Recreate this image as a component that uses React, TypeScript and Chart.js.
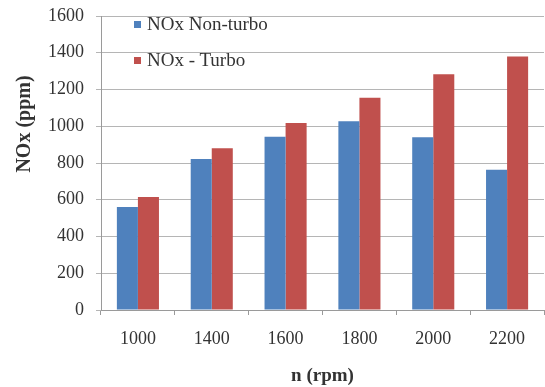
import React, { useEffect, useRef } from "react";
import { Chart, registerables } from "chart.js";

Chart.register(...registerables);

const categories = ["1000", "1400", "1600", "1800", "2000", "2200"];
const nonTurbo = [560, 822, 943, 1027, 940, 763];
const turbo = [615, 880, 1018, 1155, 1283, 1380];
const seriesNames = ["NOx Non-turbo", "NOx - Turbo"];
const seriesColors = ["#4F81BD", "#C0504D"];
const yTitle = "NOx (ppm)";
const xTitle = "n (rpm)";

const yTitlePlugin = {
  id: "yTitlePlugin",
  afterDraw(chart: any) {
    const ctx = chart.ctx;
    ctx.save();
    ctx.translate(25, 124);
    ctx.rotate(-Math.PI / 2);
    ctx.font = "bold 20px 'Liberation Serif'";
    ctx.fillStyle = "#333";
    ctx.textAlign = "center";
    ctx.textBaseline = "middle";
    ctx.fillText(yTitle, 0, 0);
    ctx.restore();
  },
};

export default function App() {
  const ref = useRef<HTMLCanvasElement | null>(null);
  useEffect(() => {
    if (!ref.current) return;
    const chart = new Chart(ref.current, {
      type: "bar",
      data: {
        labels: categories,
        datasets: [
          { label: seriesNames[0], data: nonTurbo, backgroundColor: seriesColors[0], barPercentage: 1, categoryPercentage: 0.57 },
          { label: seriesNames[1], data: turbo, backgroundColor: seriesColors[1], barPercentage: 1, categoryPercentage: 0.57 },
        ],
      },
      options: {
        animation: false,
        responsive: false,
        maintainAspectRatio: false,
        layout: { padding: { top: 16, right: 1, left: 0, bottom: 0 } },
        plugins: { legend: { display: false }, tooltip: { enabled: false } },
        scales: {
          x: {
            offset: true,
            grid: { offset: true, drawOnChartArea: false, drawTicks: true, tickLength: 5, color: "#9a9a9a" },
            border: { color: "#9a9a9a" },
            ticks: { color: "#333", font: { family: "Liberation Serif", size: 18 }, padding: 13 },
            title: { display: true, text: xTitle, color: "#333", font: { family: "Liberation Serif", size: 19, weight: "bold" }, padding: { top: 0, bottom: 0 } },
            afterFit: (s: any) => { s.height = 77; s.paddingLeft = 0; s.paddingRight = 0; },
          },
          y: {
            min: 0,
            max: 1600,
            ticks: {
              stepSize: 200,
              color: "#333",
              font: { family: "Liberation Serif", size: 18 },
              padding: 12,
              callback: (v: any) => String(v),
            },
            grid: { color: "#b5b5b5", tickLength: 5 },
            border: { color: "#9a9a9a" },
            afterFit: (s: any) => { s.width = 101; s.paddingTop = 0; s.paddingBottom = 0; },
          },
        },
      },
      plugins: [yTitlePlugin],
    });
    return () => chart.destroy();
  }, []);
  const legendItem = (i: number, top: number) => (
    <div style={{ position: "absolute", left: 134, top, height: 22, display: "flex", alignItems: "center", fontFamily: "Liberation Serif", fontSize: 19, color: "#333", whiteSpace: "nowrap" }}>
      <span style={{ display: "inline-block", width: 7, height: 7, background: seriesColors[i], marginRight: 6 }} />
      {seriesNames[i]}
    </div>
  );
  return (
    <div style={{ position: "fixed", left: 0, top: 0, width: 545, height: 387, background: "#fff" }}>
      <canvas ref={ref} width={545} height={387} />
      {legendItem(0, 13)}
      {legendItem(1, 49)}
    </div>
  );
}
